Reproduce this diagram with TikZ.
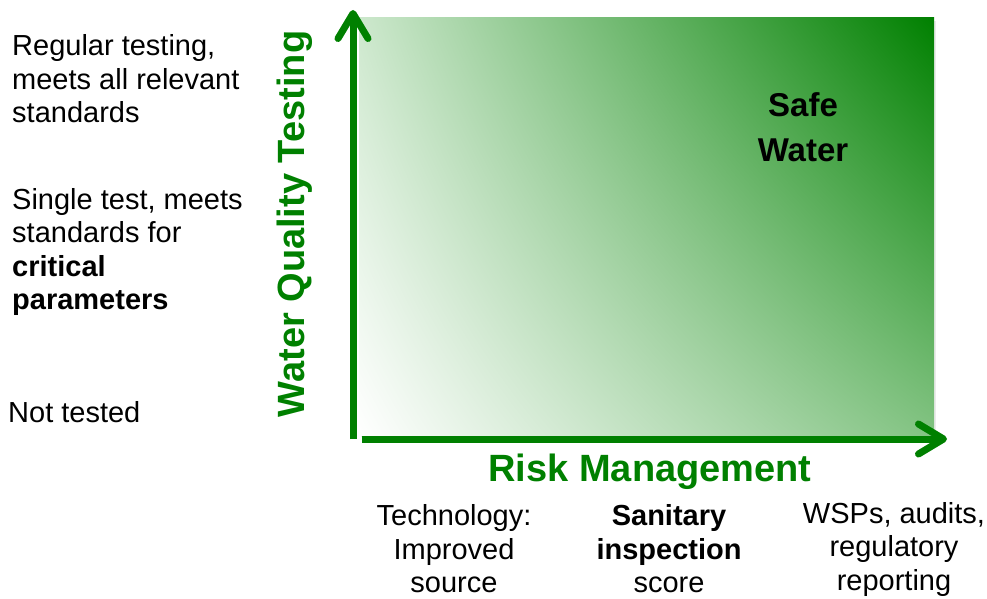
\documentclass[tikz,border=0pt]{standalone}
\usepackage{fontspec}
\setmainfont{Liberation Sans}
\usetikzlibrary{arrows.meta,shadings}
\definecolor{wqgreen}{RGB}{0,128,0}
\definecolor{paleleft}{RGB}{205,232,205}
\definecolor{midright}{RGB}{130,195,130}
\begin{document}
\begin{tikzpicture}[x=1pt,y=-1pt,line cap=butt,line join=miter,
		>={Straight Barb[length=25pt,width=30pt,round]},
		font=\fontsize{29}{33.5}\selectfont,
		every node/.style={inner sep=0pt},
		axis/.style={draw=wqgreen,line width=7pt,->},
		axislabel/.style={text=wqgreen,font=\fontsize{38}{44}\selectfont\bfseries}]
	\useasboundingbox (0,0) rectangle (987,599);
	% the field, light at the origin and full green at the far corner
	\fill[black!8] (361,21) rectangle (936,437);
	\shade[lower left=white,upper right=wqgreen,upper left=paleleft,lower right=midright]
		(359,18) rectangle (934,435);
	% axes
	\coordinate (o) at (353,439);
	\coordinate (ytop) at (353,10);
	\coordinate (xo) at (362,439);
	\coordinate (xend) at (947,439);
	\draw[axis] (o) -- (ytop);
	\draw[axis] (xo) -- (xend);
	\node[axislabel,rotate=90] (wqt) at (295,224) {Water Quality Testing};
	\node[axislabel] (rm) at (650,472) {Risk Management};
	\node[font=\fontsize{33}{45}\selectfont\bfseries,align=center] (safe) at (803,127) {Safe\\Water};
	% levels of testing
	\node[anchor=west,align=left] (regular) at (12,79) {Regular testing,\\meets all relevant\\standards};
	\node[anchor=west,align=left] (single) at (12,252) {Single test, meets\\standards for\\\textbf{critical}\\\textbf{parameters}};
	\node[anchor=west] (none) at (8,412) {Not tested};
	% levels of risk management
	\node[align=center] (tech) at (454,549) {Technology:\\Improved\\source};
	\node[align=center] (sanit) at (669,549) {\textbf{Sanitary}\\\textbf{inspection}\\score};
	\node[align=center] (wsp) at (894,549) {WSPs, audits,\\regulatory\\reporting};
\end{tikzpicture}
\end{document}
